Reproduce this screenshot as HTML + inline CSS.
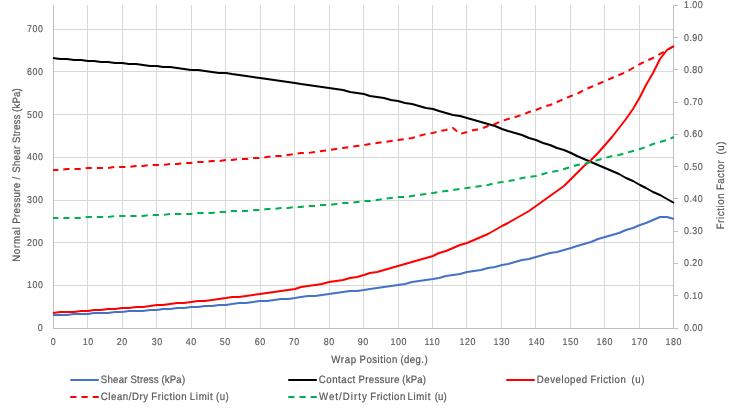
<!DOCTYPE html>
<html><head><meta charset="utf-8"><title>Chart</title>
<style>
html,body{margin:0;padding:0;background:#fff;}
svg{display:block;}
text{font-family:"Liberation Sans",sans-serif;font-size:9.9px;fill:#595959;text-rendering:geometricPrecision;stroke:#595959;stroke-width:0.22px;}
.t{font-size:10.7px;}
.k{stroke-width:0.15px;}
</style></head><body>
<svg width="736" height="408" viewBox="0 0 736 408">
<rect width="736" height="408" fill="#fff"/>

<g fill="#D9D9D9">
<rect x="54" y="285" width="619" height="1"/>
<rect x="54" y="242" width="619" height="1"/>
<rect x="54" y="200" width="619" height="1"/>
<rect x="54" y="157" width="619" height="1"/>
<rect x="54" y="114" width="619" height="1"/>
<rect x="54" y="71" width="619" height="1"/>
<rect x="54" y="29" width="619" height="1"/>
<rect x="87" y="5" width="1" height="323"/>
<rect x="122" y="5" width="1" height="323"/>
<rect x="156" y="5" width="1" height="323"/>
<rect x="191" y="5" width="1" height="323"/>
<rect x="225" y="5" width="1" height="323"/>
<rect x="260" y="5" width="1" height="323"/>
<rect x="294" y="5" width="1" height="323"/>
<rect x="329" y="5" width="1" height="323"/>
<rect x="363" y="5" width="1" height="323"/>
<rect x="398" y="5" width="1" height="323"/>
<rect x="432" y="5" width="1" height="323"/>
<rect x="466" y="5" width="1" height="323"/>
<rect x="501" y="5" width="1" height="323"/>
<rect x="535" y="5" width="1" height="323"/>
<rect x="570" y="5" width="1" height="323"/>
<rect x="604" y="5" width="1" height="323"/>
<rect x="639" y="5" width="1" height="323"/>
</g>
<g fill="#BFBFBF">
<rect x="53" y="5" width="1" height="324"/>
<rect x="673" y="5" width="1" height="324"/>
<rect x="53" y="328" width="621" height="1"/>
<rect x="674" y="328" width="4" height="1"/>
<rect x="674" y="295" width="4" height="1"/>
<rect x="674" y="263" width="4" height="1"/>
<rect x="674" y="231" width="4" height="1"/>
<rect x="674" y="198" width="4" height="1"/>
<rect x="674" y="166" width="4" height="1"/>
<rect x="674" y="134" width="4" height="1"/>
<rect x="674" y="102" width="4" height="1"/>
<rect x="674" y="69" width="4" height="1"/>
<rect x="674" y="37" width="4" height="1"/>
<rect x="674" y="5" width="4" height="1"/>
</g>
<polyline points="53,315 60,315 67,315 74,314 81,314 88,314 94,313 101,313 108,313 115,312 122,312 129,311 136,311 143,311 150,310 157,310 163,309 170,309 177,308 184,308 191,307 198,307 205,306 212,306 219,305 226,305 232,304 239,303 246,303 253,302 260,301 267,301 274,300 281,299 288,299 295,298 301,297 308,296 315,296 322,295 329,294 336,293 343,292 350,291 357,291 364,290 370,289 377,288 384,287 391,286 398,285 405,284 412,282 419,281 426,280 433,279 439,278 446,276 453,275 460,274 467,272 474,271 481,270 488,268 495,267 502,265 508,264 515,262 522,260 529,259 536,257 543,255 550,253 557,252 564,250 571,248 577,246 584,244 591,242 598,239 605,237 612,235 619,233 626,230 633,228 640,225 646,223 653,220 660,217 667,217 674,219" fill="none" stroke="#4472C4" stroke-width="2" stroke-linejoin="round" stroke-linecap="butt"/>
<polyline points="53,58 60,59 67,59 74,60 81,60 88,61 94,61 101,62 108,62 115,63 122,63 129,64 136,64 143,65 150,66 157,66 163,67 170,67 177,68 184,69 191,70 198,70 205,71 212,72 219,73 226,73 232,74 239,75 246,76 253,77 260,78 267,79 274,80 281,81 288,82 295,83 301,84 308,85 315,86 322,87 329,88 336,89 343,90 350,92 357,93 364,94 370,96 377,97 384,98 391,100 398,101 405,103 412,104 419,106 426,108 433,109 439,111 446,113 453,115 460,116 467,118 474,120 481,122 488,124 495,126 502,129 508,131 515,133 522,135 529,138 536,140 543,143 550,145 557,148 564,150 571,153 577,156 584,159 591,162 598,165 605,168 612,171 619,174 626,178 633,181 640,185 646,188 653,192 660,195 667,199 674,203" fill="none" stroke="#000000" stroke-width="2" stroke-linejoin="round" stroke-linecap="butt"/>
<polyline points="53,313 60,312 67,312 74,312 81,311 88,311 94,310 101,310 108,309 115,309 122,308 129,308 136,307 143,307 150,306 157,305 163,305 170,304 177,303 184,303 191,302 198,301 205,301 212,300 219,299 226,298 232,297 239,297 246,296 253,295 260,294 267,293 274,292 281,291 288,290 295,289 301,287 308,286 315,285 322,284 329,282 336,281 343,280 350,278 357,277 364,275 370,273 377,272 384,270 391,268 398,266 405,264 412,262 419,260 426,258 433,256 439,253 446,251 453,248 460,245 467,243 474,240 481,237 488,234 495,230 502,226 508,223 515,219 522,215 529,211 536,206 543,201 550,196 557,191 564,186 571,179 577,173 584,166 591,160 598,153 605,145 612,137 619,128 626,119 633,109 640,97 646,85 653,73 660,59 667,50 674,46" fill="none" stroke="#FF0000" stroke-width="2" stroke-linejoin="round" stroke-linecap="butt"/>
<polyline points="53,170 60,170 67,169 74,169 81,169 88,168 94,168 101,168 108,168 115,167 122,167 129,167 136,166 143,166 150,165 157,165 163,165 170,164 177,164 184,163 191,163 198,162 205,162 212,161 219,161 226,160 232,160 239,159 246,159 253,158 260,158 267,157 274,156 281,156 288,155 295,154 301,153 308,153 315,152 322,151 329,150 336,149 343,148 350,147 357,146 364,145 370,144 377,143 384,142 391,141 398,140 405,139 412,138 419,136 426,134 433,133 439,131 446,130 453,128 460,134 467,132 474,130 481,129 488,126 495,124 502,121 508,119 515,117 522,115 529,112 536,110 543,107 550,105 557,102 564,99 571,96 577,94 584,90 591,87 598,84 605,81 612,78 619,75 626,72 633,68 640,64 646,61 653,58 660,54 667,50 674,46" fill="none" stroke="#FF0000" stroke-width="2" stroke-linejoin="round" stroke-linecap="butt" stroke-dasharray="6.23 4.985" stroke-dashoffset="0.9"/>
<polyline points="53,218 60,218 67,218 74,218 81,218 88,217 94,217 101,217 108,217 115,216 122,216 129,216 136,216 143,216 150,215 157,215 163,215 170,214 177,214 184,214 191,214 198,213 205,213 212,213 219,212 226,212 232,211 239,211 246,211 253,210 260,210 267,209 274,209 281,208 288,208 295,207 301,207 308,206 315,206 322,205 329,205 336,204 343,203 350,203 357,202 364,201 370,201 377,200 384,199 391,198 398,197 405,197 412,196 419,195 426,194 433,193 439,192 446,191 453,190 460,189 467,188 474,187 481,186 488,185 495,183 502,182 508,181 515,180 522,178 529,177 536,176 543,174 550,172 557,171 564,169 571,167 577,165 584,164 591,162 598,160 605,158 612,156 619,155 626,153 633,151 640,149 646,147 653,144 660,142 667,140 674,137" fill="none" stroke="#00B050" stroke-width="2" stroke-linejoin="round" stroke-linecap="butt" stroke-dasharray="6.22 4.98" stroke-dashoffset="0.9"/>
<text class="k" transform="translate(43.1,331) scale(0.9000,1)" xml:space="preserve"><tspan x="-6.00" style="letter-spacing:0.612px">0</tspan></text>
<text class="k" transform="translate(43.5,288) scale(0.9000,1)" xml:space="preserve"><tspan x="-18.23" style="letter-spacing:0.612px">100</tspan></text>
<text class="k" transform="translate(43.5,246) scale(0.9000,1)" xml:space="preserve"><tspan x="-18.23" style="letter-spacing:0.612px">200</tspan></text>
<text class="k" transform="translate(43.5,203) scale(0.9000,1)" xml:space="preserve"><tspan x="-18.23" style="letter-spacing:0.612px">300</tspan></text>
<text class="k" transform="translate(43.5,160) scale(0.9000,1)" xml:space="preserve"><tspan x="-18.23" style="letter-spacing:0.612px">400</tspan></text>
<text class="k" transform="translate(43.5,118) scale(0.9000,1)" xml:space="preserve"><tspan x="-18.23" style="letter-spacing:0.612px">500</tspan></text>
<text class="k" transform="translate(43.5,75) scale(0.9000,1)" xml:space="preserve"><tspan x="-18.23" style="letter-spacing:0.612px">600</tspan></text>
<text class="k" transform="translate(43.5,32) scale(0.9000,1)" xml:space="preserve"><tspan x="-18.23" style="letter-spacing:0.612px">700</tspan></text>
<text class="k" transform="translate(683.9,331) scale(0.9000,1)" xml:space="preserve"><tspan x="0.11" style="letter-spacing:0.535px">0.00</tspan></text>
<text class="k" transform="translate(683.9,299) scale(0.9000,1)" xml:space="preserve"><tspan x="0.11" style="letter-spacing:0.535px">0.10</tspan></text>
<text class="k" transform="translate(683.9,266) scale(0.9000,1)" xml:space="preserve"><tspan x="0.11" style="letter-spacing:0.535px">0.20</tspan></text>
<text class="k" transform="translate(683.9,234) scale(0.9000,1)" xml:space="preserve"><tspan x="0.11" style="letter-spacing:0.535px">0.30</tspan></text>
<text class="k" transform="translate(683.9,202) scale(0.9000,1)" xml:space="preserve"><tspan x="0.11" style="letter-spacing:0.535px">0.40</tspan></text>
<text class="k" transform="translate(683.9,170) scale(0.9000,1)" xml:space="preserve"><tspan x="0.11" style="letter-spacing:0.535px">0.50</tspan></text>
<text class="k" transform="translate(683.9,137) scale(0.9000,1)" xml:space="preserve"><tspan x="0.11" style="letter-spacing:0.535px">0.60</tspan></text>
<text class="k" transform="translate(683.9,105) scale(0.9000,1)" xml:space="preserve"><tspan x="0.11" style="letter-spacing:0.535px">0.70</tspan></text>
<text class="k" transform="translate(683.9,73) scale(0.9000,1)" xml:space="preserve"><tspan x="0.11" style="letter-spacing:0.535px">0.80</tspan></text>
<text class="k" transform="translate(683.9,41) scale(0.9000,1)" xml:space="preserve"><tspan x="0.11" style="letter-spacing:0.535px">0.90</tspan></text>
<text class="k" transform="translate(683.9,8) scale(0.9000,1)" xml:space="preserve"><tspan x="0.11" style="letter-spacing:0.535px">1.00</tspan></text>
<text class="k" transform="translate(53.3,345) scale(0.9000,1)" xml:space="preserve"><tspan x="-2.94" style="letter-spacing:0.612px">0</tspan></text>
<text class="k" transform="translate(88.11,345) scale(0.9000,1)" xml:space="preserve"><tspan x="-6.00" style="letter-spacing:0.612px">10</tspan></text>
<text class="k" transform="translate(122.11,345) scale(0.9000,1)" xml:space="preserve"><tspan x="-6.00" style="letter-spacing:0.612px">20</tspan></text>
<text class="k" transform="translate(157.11,345) scale(0.9000,1)" xml:space="preserve"><tspan x="-6.00" style="letter-spacing:0.612px">30</tspan></text>
<text class="k" transform="translate(191.11,345) scale(0.9000,1)" xml:space="preserve"><tspan x="-6.00" style="letter-spacing:0.612px">40</tspan></text>
<text class="k" transform="translate(225.11,345) scale(0.9000,1)" xml:space="preserve"><tspan x="-6.00" style="letter-spacing:0.612px">50</tspan></text>
<text class="k" transform="translate(260.11,345) scale(0.9000,1)" xml:space="preserve"><tspan x="-6.00" style="letter-spacing:0.612px">60</tspan></text>
<text class="k" transform="translate(294.11,345) scale(0.9000,1)" xml:space="preserve"><tspan x="-6.00" style="letter-spacing:0.612px">70</tspan></text>
<text class="k" transform="translate(329.11,345) scale(0.9000,1)" xml:space="preserve"><tspan x="-6.00" style="letter-spacing:0.612px">80</tspan></text>
<text class="k" transform="translate(363.11,345) scale(0.9000,1)" xml:space="preserve"><tspan x="-6.00" style="letter-spacing:0.612px">90</tspan></text>
<text class="k" transform="translate(398.66,345) scale(0.9000,1)" xml:space="preserve"><tspan x="-9.05" style="letter-spacing:0.612px">100</tspan></text>
<text class="k" transform="translate(432.29,345) scale(0.9000,1)" xml:space="preserve"><tspan x="-8.65" style="letter-spacing:0.585px">110</tspan></text>
<text class="k" transform="translate(467.66,345) scale(0.9000,1)" xml:space="preserve"><tspan x="-9.05" style="letter-spacing:0.612px">120</tspan></text>
<text class="k" transform="translate(501.66,345) scale(0.9000,1)" xml:space="preserve"><tspan x="-9.05" style="letter-spacing:0.612px">130</tspan></text>
<text class="k" transform="translate(536.66,345) scale(0.9000,1)" xml:space="preserve"><tspan x="-9.05" style="letter-spacing:0.612px">140</tspan></text>
<text class="k" transform="translate(570.66,345) scale(0.9000,1)" xml:space="preserve"><tspan x="-9.05" style="letter-spacing:0.612px">150</tspan></text>
<text class="k" transform="translate(604.66,345) scale(0.9000,1)" xml:space="preserve"><tspan x="-9.05" style="letter-spacing:0.612px">160</tspan></text>
<text class="k" transform="translate(639.66,345) scale(0.9000,1)" xml:space="preserve"><tspan x="-9.05" style="letter-spacing:0.612px">170</tspan></text>
<text class="k" transform="translate(673.66,345) scale(0.9000,1)" xml:space="preserve"><tspan x="-9.05" style="letter-spacing:0.612px">180</tspan></text>
<text class="t" transform="translate(379.5,363) scale(0.9000,1)" xml:space="preserve"><tspan x="-53.73" style="letter-spacing:0.818px">Wrap </tspan><tspan x="-22.18" style="letter-spacing:0.555px">Position </tspan><tspan x="23.26" style="letter-spacing:0.462px">(deg.)</tspan></text>
<text class="t" transform="translate(20.3,175) rotate(-90) scale(0.9000,1)" xml:space="preserve"><tspan x="-96.50" style="letter-spacing:0.851px">Normal </tspan><tspan x="-54.05" style="letter-spacing:0.351px">Pressure </tspan><tspan x="-5.13" style="letter-spacing:2.076px">/ </tspan><tspan x="2.53" style="letter-spacing:0.329px">Shear </tspan><tspan x="35.65" style="letter-spacing:0.196px">Stress </tspan><tspan x="70.11" style="letter-spacing:0.208px">(kPa)</tspan></text>
<text class="t" transform="translate(723.9,185.3) rotate(-90) scale(0.9000,1)" xml:space="preserve"><tspan x="-48.97" style="letter-spacing:0.698px">Friction </tspan><tspan x="-5.34" style="letter-spacing:0.543px">Factor  </tspan><tspan x="34.25" style="letter-spacing:0.638px">(u)</tspan></text>
<line x1="70.25" y1="380" x2="98.75" y2="380" stroke="#4472C4" stroke-width="2"/><text class="t" transform="translate(100.75,383) scale(0.9000,1)" xml:space="preserve"><tspan x="0.06" style="letter-spacing:0.308px">Shear </tspan><tspan x="33.07" style="letter-spacing:0.178px">Stress </tspan><tspan x="67.41" style="letter-spacing:0.190px">(kPa)</tspan></text>
<line x1="288.25" y1="380" x2="316.75" y2="380" stroke="#000000" stroke-width="2"/><text class="t" transform="translate(318.75,383) scale(0.9000,1)" xml:space="preserve"><tspan x="0.12" style="letter-spacing:0.604px">Contact </tspan><tspan x="44.14" style="letter-spacing:0.366px">Pressure </tspan><tspan x="92.82" style="letter-spacing:0.222px">(kPa)</tspan></text>
<line x1="506.25" y1="380" x2="534.75" y2="380" stroke="#FF0000" stroke-width="2"/><text class="t" transform="translate(536.75,383) scale(0.9000,1)" xml:space="preserve"><tspan x="0.12" style="letter-spacing:0.601px">Developed </tspan><tspan x="59.63" style="letter-spacing:0.603px">Friction  </tspan><tspan x="105.40" style="letter-spacing:0.544px">(u)</tspan></text>
<line x1="70.25" y1="397" x2="98.75" y2="397" stroke="#FF0000" stroke-width="2" stroke-dasharray="6.23 4.985"/><text class="t" transform="translate(100.75,400) scale(0.9000,1)" xml:space="preserve"><tspan x="0.12" style="letter-spacing:0.606px">Clean/Dry </tspan><tspan x="56.09" style="letter-spacing:0.612px">Friction </tspan><tspan x="99.03" style="letter-spacing:0.724px">Limit </tspan><tspan x="128.15" style="letter-spacing:0.553px">(u)</tspan></text>
<line x1="288.25" y1="397" x2="316.75" y2="397" stroke="#00B050" stroke-width="2" stroke-dasharray="6.23 4.985"/><text class="t" transform="translate(318.75,400) scale(0.9000,1)" xml:space="preserve"><tspan x="0.24" style="letter-spacing:1.190px">Wet/Dirty </tspan><tspan x="57.32" style="letter-spacing:0.535px">Friction </tspan><tspan x="98.54" style="letter-spacing:0.716px">Limit </tspan><tspan x="128.86" style="letter-spacing:0.101px">(u)</tspan></text>
</svg></body></html>
